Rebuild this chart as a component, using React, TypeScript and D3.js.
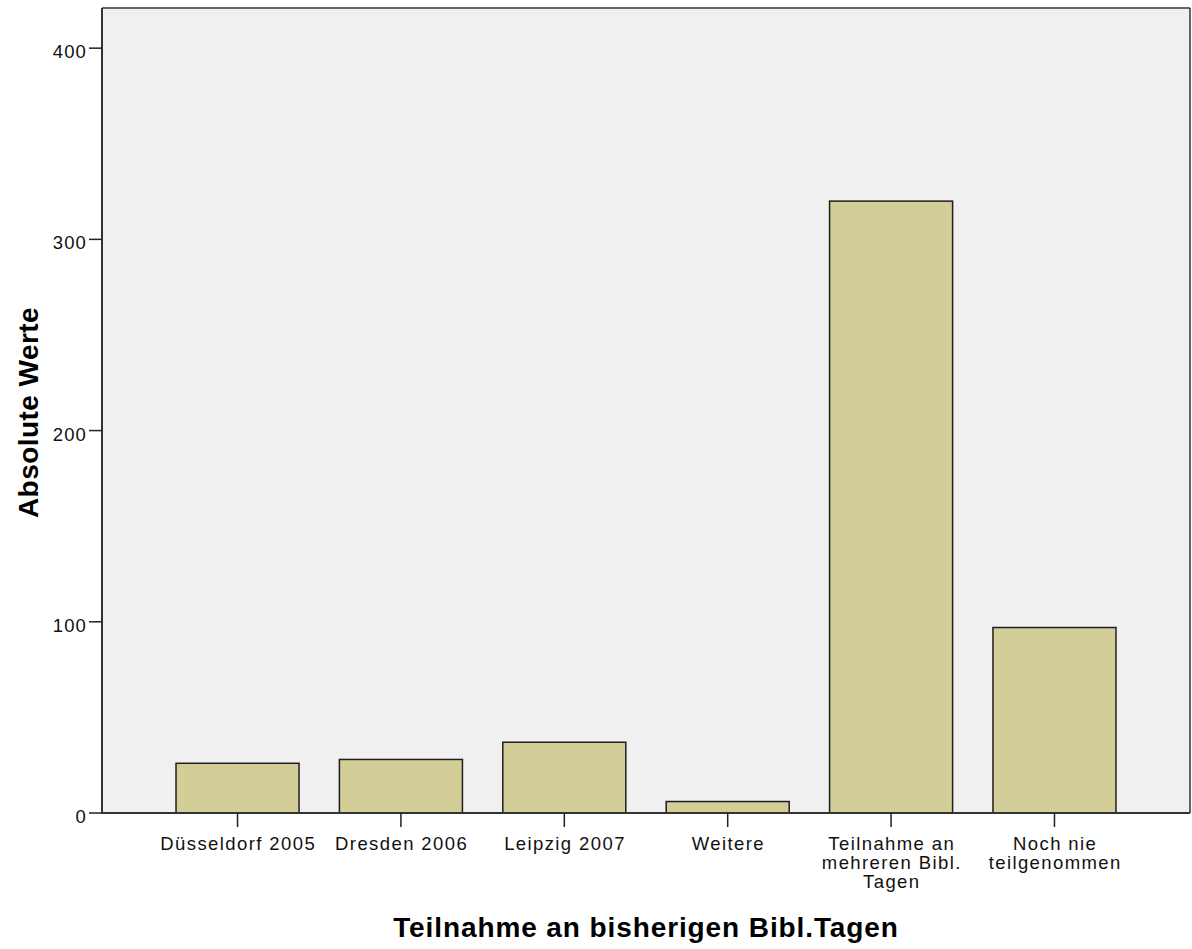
import React from "react";
import * as d3 from "d3";

const categories: string[][] = [
  ["Düsseldorf 2005"],
  ["Dresden 2006"],
  ["Leipzig 2007"],
  ["Weitere"],
  ["Teilnahme an", "mehreren Bibl.", "Tagen"],
  ["Noch nie", "teilgenommen"],
];
const values: number[] = [26, 28, 37, 6, 320, 97];
const yTicks: number[] = [0, 100, 200, 300, 400];
const yTitle = "Absolute Werte";
const xTitle = "Teilnahme an bisherigen Bibl.Tagen";

const W = 1192;
const H = 949;
const left = 102;
const right = 1190;
const top = 8;
const bottom = 813;
const FONT = "'Liberation Sans', Arial, sans-serif";

export default function App() {
  const keys = categories.map((c) => c.join(" "));
  const x = d3
    .scaleBand<string>()
    .domain(keys)
    .range([left, right])
    .paddingInner(0.247)
    .paddingOuter(0.453);
  const y = d3.scaleLinear().domain([0, 421]).range([bottom, top]);

  return (
    <svg
      width={W}
      height={H}
      style={{ position: "absolute", left: 0, top: 0, background: "#fff" }}
      fontFamily={FONT}
    >
      <rect x={left} y={top} width={right - left} height={bottom - top} fill="#f0f0f0" />
      {values.map((v, i) => (
        <rect
          key={i}
          x={x(keys[i])!}
          y={y(v)}
          width={x.bandwidth()}
          height={bottom - y(v)}
          fill="#d3ce97"
          stroke="#1e1e1e"
          strokeWidth={1.5}
        />
      ))}
      {/* frame */}
      <line x1={left} x2={right} y1={top} y2={top} stroke="#333" strokeWidth={1.5} />
      <line x1={right} x2={right} y1={top} y2={bottom} stroke="#333" strokeWidth={1.5} />
      <line x1={left} x2={left} y1={top} y2={bottom + 1} stroke="#333" strokeWidth={2} />
      <line x1={left} x2={right} y1={bottom} y2={bottom} stroke="#333" strokeWidth={2} />
      {/* y ticks */}
      {yTicks.map((t) => (
        <g key={t}>
          <line x1={left - 13} x2={left} y1={y(t)} y2={y(t)} stroke="#222" strokeWidth={1.5} />
          <text
            x={left - 15}
            y={y(t) + 10}
            textAnchor="end"
            fontSize={18.5}
            letterSpacing={1.1}
            fill="#111"
          >
            {t}
          </text>
        </g>
      ))}
      {/* x ticks */}
      {categories.map((lines, i) => {
        const cx = x(keys[i])! + x.bandwidth() / 2;
        return (
          <g key={i}>
            <line x1={cx} x2={cx} y1={bottom} y2={bottom + 14} stroke="#222" strokeWidth={1.5} />
            <text textAnchor="middle" fontSize={18.5} letterSpacing={1.4} fill="#111">
              {lines.map((l, j) => (
                <tspan key={j} x={cx + 0.7} y={850 + j * 19}>
                  {l}
                </tspan>
              ))}
            </text>
          </g>
        );
      })}
      <text
        transform={`translate(38, ${(307 + 518) / 2}) rotate(-90)`}
        textAnchor="middle"
        fontSize={28}
        fontWeight="bold"
        letterSpacing={0.45}
        fill="#000"
      >
        {yTitle}
      </text>
      <text
        x={(left + right) / 2}
        y={937}
        textAnchor="middle"
        fontSize={28}
        fontWeight="bold"
        letterSpacing={0.9}
        fill="#000"
      >
        {xTitle}
      </text>
    </svg>
  );
}
